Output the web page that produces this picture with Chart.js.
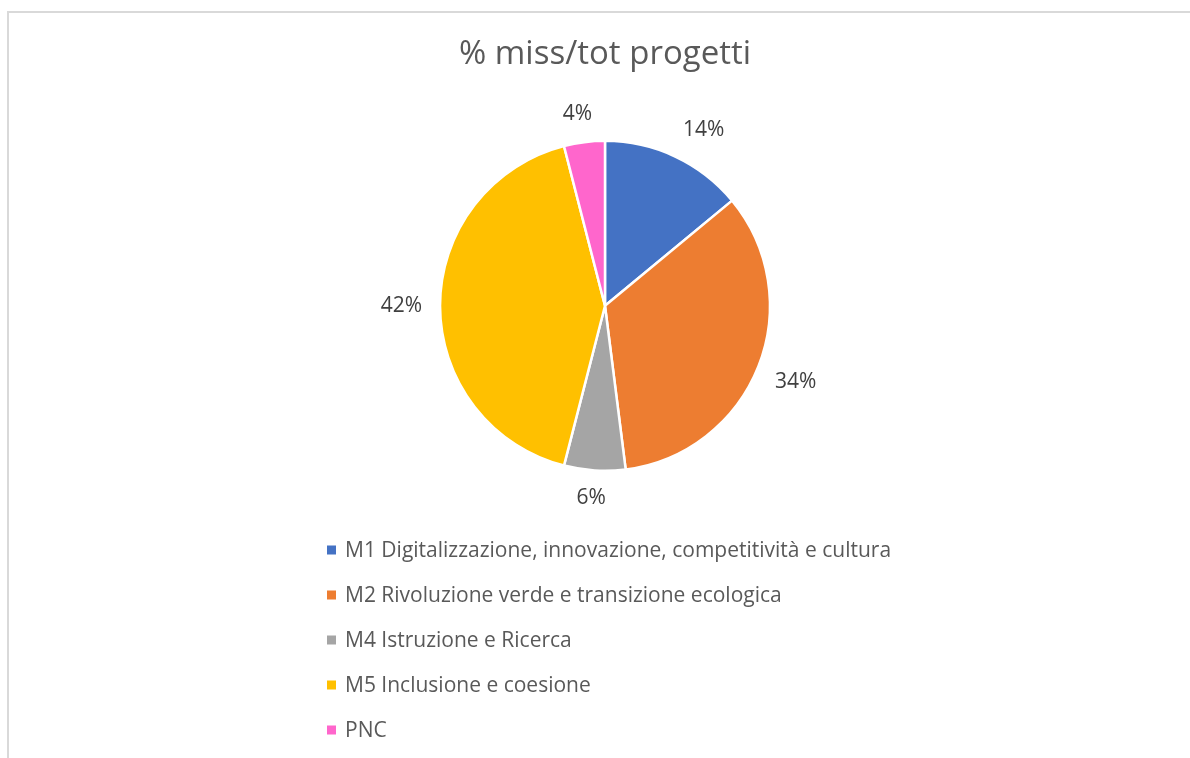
<!DOCTYPE html>
<html>
<head>
<meta charset="utf-8">
<script src="https://cdn.jsdelivr.net/npm/chart.js@4.4.1/dist/chart.umd.min.js"></script>
<style>
  html, body { margin: 0; padding: 0; background: #ffffff; }
  #wrap { position: absolute; left: 0; top: 0; width: 1190px; height: 758px; }
  #frame { position: absolute; left: 7px; top: 11px; width: 1183px; height: 747px;
           border-top: 2px solid #d9d9d9; border-left: 2px solid #d9d9d9; box-sizing: border-box; }
  canvas { position: absolute; left: 0; top: 0; }
</style>
</head>
<body>
<div id="wrap">
  <div id="frame"></div>
  <canvas id="c" width="1190" height="758"></canvas>
</div>
<script>
const chartTitle = "% miss/tot progetti";
const categories = [
  "M1 Digitalizzazione, innovazione, competitività e cultura",
  "M2 Rivoluzione verde e transizione ecologica",
  "M4 Istruzione e Ricerca",
  "M5 Inclusione e coesione",
  "PNC"
];
const shareValues = [14, 34, 6, 42, 4];
const valueLabels = ["14%", "34%", "6%", "42%", "4%"];
const sliceColors = ["#4472C4", "#ED7D31", "#A5A5A5", "#FFC000", "#FF66CC"];

const FONT = "'Open Sans', 'Liberation Sans', sans-serif";

const labelPlugin = {
  id: "outLabels",
  afterDatasetsDraw(chart) {
    const ctx = chart.ctx;
    const meta = chart.getDatasetMeta(0);
    ctx.save();
    ctx.font = "21px " + FONT;
    ctx.fillStyle = "#404040";
    ctx.textAlign = "center";
    ctx.textBaseline = "middle";
    const clamp = (v) => Math.max(-1, Math.min(1, v));
    meta.data.forEach((arc, i) => {
      const p = arc.getProps(["x", "y", "startAngle", "endAngle", "outerRadius"], true);
      const mid = (p.startAngle + p.endAngle) / 2;
      const ux = Math.cos(mid), uy = Math.sin(mid);
      const txt = valueLabels[i];
      const w = ctx.measureText(txt).width;
      const h = 20;
      const d = p.outerRadius + 18;
      const lx = p.x + ux * d + (w / 2) * clamp(ux * 2.5);
      const ly = p.y + uy * d + (h / 2) * clamp(uy * 2.5);
      ctx.fillText(txt, lx, ly);
    });
    ctx.restore();
  }
};

const legendPlugin = {
  id: "vertLegend",
  afterDraw(chart) {
    const ctx = chart.ctx;
    ctx.save();
    ctx.font = "21px " + FONT;
    ctx.textBaseline = "middle";
    ctx.textAlign = "left";
    const x0 = 327, y0 = 550, step = 45, box = 9;
    chart.data.labels.forEach((lab, i) => {
      const y = y0 + i * step;
      ctx.fillStyle = chart.data.datasets[0].backgroundColor[i];
      ctx.fillRect(x0, y - box / 2, box, box);
      ctx.fillStyle = "#595959";
      ctx.fillText(lab, x0 + 18, y + 1);
    });
    ctx.restore();
  }
};

new Chart(document.getElementById("c"), {
  type: "pie",
  data: {
    labels: categories,
    datasets: [{
      data: shareValues,
      backgroundColor: sliceColors,
      borderColor: "#ffffff",
      borderWidth: 2.5
    }]
  },
  options: {
    responsive: false,
    animation: false,
    layout: { padding: { top: 0, bottom: 286, left: 200, right: 180 } },
    plugins: {
      legend: { display: false },
      tooltip: { enabled: false },
      title: {
        display: true,
        text: chartTitle,
        color: "#595959",
        font: { size: 33, family: FONT, weight: "normal" },
        padding: { top: 35, bottom: 65 }
      }
    }
  },
  plugins: [labelPlugin, legendPlugin]
});
</script>
</body>
</html>
